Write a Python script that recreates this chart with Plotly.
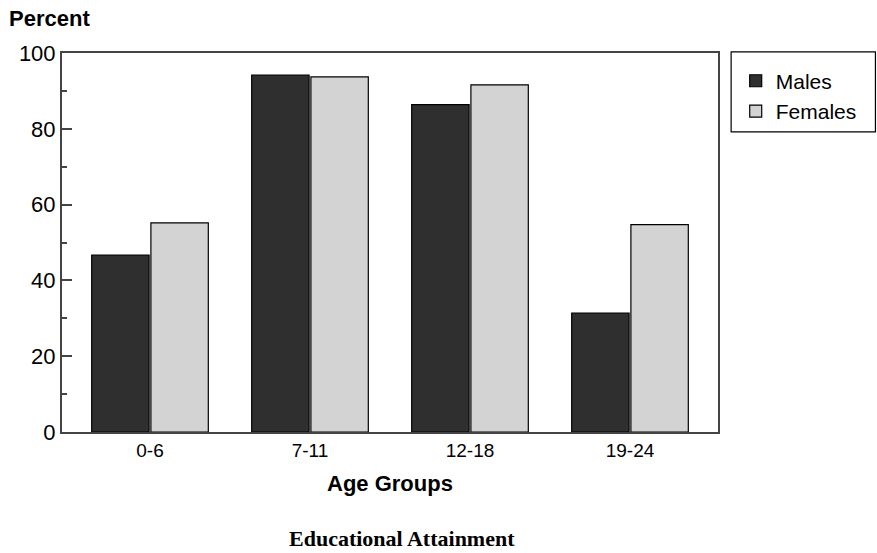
import plotly.graph_objects as go

categories = ["0-6", "7-11", "12-18", "19-24"]
males = [46.7, 94.2, 86.4, 31.4]
females = [55.2, 93.7, 91.6, 54.7]
y_ticks = [0, 20, 40, 60, 80, 100]

fig = go.Figure()
fig.add_trace(go.Bar(x=categories, y=males, name="Males",
                     marker=dict(color="#2f2f2f", line=dict(color="#000000", width=1.2))))
fig.add_trace(go.Bar(x=categories, y=females, name="Females",
                     marker=dict(color="#d3d3d3", line=dict(color="#000000", width=1.2))))

fig.update_layout(
    width=877, height=553,
    margin=dict(l=62, r=159, t=53, b=121, autoexpand=False),
    plot_bgcolor="white", paper_bgcolor="white",
    barmode="group", bargap=0.26, bargroupgap=0.03,
    font=dict(family="Liberation Sans, Arial", color="#000000"),
    showlegend=True,
    legend=dict(x=1.027, y=0.98, xanchor="left", yanchor="top",
                bgcolor="rgba(0,0,0,0)", borderwidth=0,
                font=dict(size=21), tracegroupgap=0),
    shapes=[
        dict(type="rect", xref="paper", yref="paper",
             x0=1.02, x1=1.24, y0=0.792, y1=1.003,
             line=dict(color="#000000", width=1.2), fillcolor="rgba(0,0,0,0)"),
    ],
    annotations=[
        dict(text="<b>Percent</b>", xref="paper", yref="paper",
             x=-0.084, y=1.09, xanchor="left", yanchor="middle",
             showarrow=False, font=dict(size=22)),
        dict(text="<b>Age Groups</b>", xref="paper", yref="paper",
             x=0.5, y=-0.137, xanchor="center", yanchor="middle",
             showarrow=False, font=dict(size=22)),
        dict(text="<b>Educational Attainment</b>", xref="paper", yref="paper",
             x=0.518, y=-0.281, xanchor="center", yanchor="middle",
             showarrow=False, font=dict(size=22, family="Liberation Serif, Times New Roman")),
    ],
)

fig.update_xaxes(
    type="category", range=[-0.55, 3.55], automargin=False,
    showline=True, linecolor="#444444", linewidth=2, mirror=True,
    ticks="inside", ticklen=6, tickcolor="#444444",
    tickfont=dict(size=19), showgrid=False,
)
fig.update_yaxes(
    range=[0, 100], tickvals=y_ticks, automargin=False,
    showline=True, linecolor="#444444", linewidth=2, mirror=True,
    ticks="inside", ticklen=10, tickcolor="#444444", tickwidth=1.5,
    minor=dict(dtick=10, ticks="inside", ticklen=5, tickcolor="#444444"),
    tickfont=dict(size=22), showgrid=False, zeroline=False,
)

fig.write_html("out.html", config={"displayModeBar": False})

with open("out.html", "r", encoding="utf-8") as f:
    html = f.read()
html = html.replace("<head>", "<head><style>html,body{margin:0;padding:0;overflow:hidden;}</style>", 1)
with open("out.html", "w", encoding="utf-8") as f:
    f.write(html)
